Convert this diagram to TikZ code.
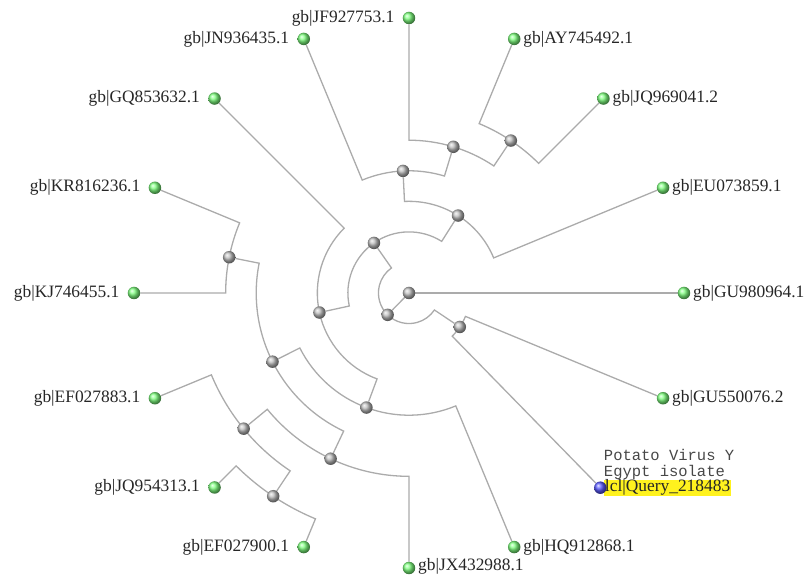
\documentclass[tikz,border=0pt]{standalone}
\usepackage{fontspec}
\setmainfont{Liberation Serif}
\newfontfamily\notefont{Liberation Mono}
\usepackage{tikz}
\usetikzlibrary{positioning, backgrounds}
\usepackage{xcolor}
\definecolor{leafgreen}{HTML}{80FF80}
\definecolor{cladegray}{HTML}{BEBEBE}
\definecolor{queryblue}{HTML}{5A5AFF}
\definecolor{branchgray}{HTML}{ABABAB}
\definecolor{markyellow}{HTML}{FFF21E}
\definecolor{labelink}{HTML}{262626}

\begin{document}
\begin{tikzpicture}[x=1pt, y=1pt,
    branch/.style={draw=branchgray, line width=1.3pt},
    leafdot/.style={circle, inner sep=0pt, minimum size=12.5pt, ball color=leafgreen},
    cladedot/.style={circle, inner sep=0pt, minimum size=12.5pt, ball color=cladegray},
    querydot/.style={circle, inner sep=0pt, minimum size=12.5pt, ball color=queryblue},
    leaflabel/.style={inner sep=0pt, text=labelink, font=\fontsize{17.4}{19}\selectfont},
    querytag/.style={inner xsep=1pt, inner ysep=0pt, fill=markyellow, text=labelink, font=\fontsize{17.4}{19}\selectfont},
    querynote/.style={inner sep=0pt, align=left, text=labelink!85, font=\notefont\fontsize{15.5}{16}\selectfont}]
    \useasboundingbox (-409,-282) rectangle (398,293);

    % leaves, labels on the right
    \foreach \name/\ang/\acc in {gu98/0/GU980964.1, eu07/22.5/EU073859.1, jq96/45/JQ969041.2,
        ay74/67.5/AY745492.1, hq91/292.5/HQ912868.1, gu55/337.5/GU550076.2} {
        \node[leafdot] (\name) at (\ang:275) {};
        \node[leaflabel, right=2.5pt of \name] (\name-lbl) {gb|\acc};
    }
    % leaves, labels on the left
    \foreach \name/\ang/\acc in {jf92/90/JF927753.1, jn93/112.5/JN936435.1, gq85/135/GQ853632.1,
        kr81/157.5/KR816236.1, kj74/180/KJ746455.1, ef83/202.5/EF027883.1,
        jq95/225/JQ954313.1, ef00/247.5/EF027900.1} {
        \node[leafdot] (\name) at (\ang:275) {};
        \node[leaflabel, left=8pt of \name] (\name-lbl) {gb|\acc};
    }
    \node[leafdot] (jx43) at (270:275) {};
    \node[leaflabel, right=2.5pt of jx43, yshift=1.5pt] (jx43-lbl) {gb|JX432988.1};

    % query sequence
    \node[querydot] (query) at (314.5:273) {};

    % inner clades
    \node[cladedot] (root) at (0,0) {};
    \node[cladedot] (cA) at (225.615:30.56) {};
    \node[cladedot] (cB) at (124.98:61.11) {};
    \node[cladedot] (cC) at (326.25:61.11) {};
    \node[cladedot] (cD) at (57.656:91.67) {};
    \node[cladedot] (cH) at (192.305:91.67) {};
    \node[cladedot] (cE) at (92.8125:122.22) {};
    \node[cladedot] (cK) at (249.609:122.22) {};
    \node[cladedot] (cF) at (73.125:152.78) {};
    \node[cladedot] (cJ) at (206.719:152.78) {};
    \node[cladedot] (cG) at (56.25:183.33) {};
    \node[cladedot] (cI) at (168.75:183.33) {};
    \node[cladedot] (cM) at (244.6875:183.33) {};
    \node[cladedot] (cL) at (219.375:213.89) {};
    \node[cladedot] (cN) at (236.25:244.44) {};

    \begin{scope}[on background layer]
        \draw[branch] (root.center) -- (gu98);
        \draw[branch] (root.center) -- (cA);
        % parent / parent angle / radius / child / child angle
        \foreach \p/\a/\r/\c/\b in {cA/225.615/30.56/cB/124.98, cA/225.615/30.56/cC/326.25,
            cB/124.98/61.11/cD/57.656, cB/124.98/61.11/cH/192.305,
            cC/326.25/61.11/query/315, cC/326.25/61.11/gu55/337.5,
            cD/57.656/91.67/eu07/22.5, cD/57.656/91.67/cE/92.8125,
            cH/192.305/91.67/gq85/135, cH/192.305/91.67/cK/249.609,
            cE/92.8125/122.22/jn93/112.5, cE/92.8125/122.22/cF/73.125,
            cK/249.609/122.22/cJ/206.719, cK/249.609/122.22/hq91/292.5,
            cF/73.125/152.78/jf92/90, cF/73.125/152.78/cG/56.25,
            cJ/206.719/152.78/cI/168.75, cJ/206.719/152.78/cM/244.6875,
            cG/56.25/183.33/ay74/67.5, cG/56.25/183.33/jq96/45,
            cI/168.75/183.33/kr81/157.5, cI/168.75/183.33/kj74/180,
            cM/244.6875/183.33/cL/219.375, cM/244.6875/183.33/jx43/270,
            cL/219.375/213.89/ef83/202.5, cL/219.375/213.89/cN/236.25,
            cN/236.25/244.44/jq95/225, cN/236.25/244.44/ef00/247.5} {
            \draw[branch] (\p.center) arc[start angle=\a, end angle=\b, radius=\r pt] -- (\c);
        }
        \node[querytag, right=-3pt of query] (query-lbl) {lcl|Query\_218483};
    \end{scope}
    \node[querynote, anchor=south west] (query-note) at (query-lbl.north west) {Potato Virus Y\\Egypt isolate};
\end{tikzpicture}
\end{document}
